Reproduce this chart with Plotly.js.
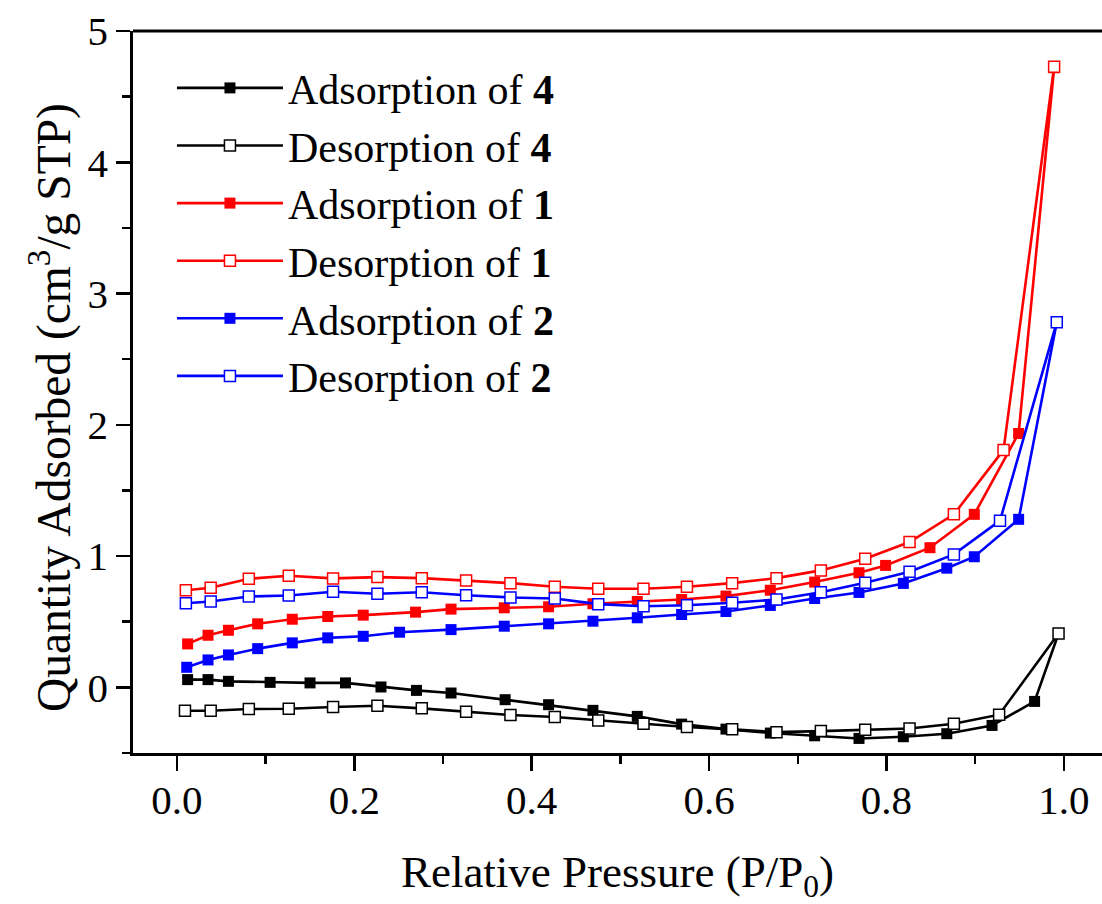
<!DOCTYPE html>
<html>
<head>
<meta charset="utf-8">
<script src="https://cdn.plot.ly/plotly-3.0.1.min.js"></script>
<style>html,body{margin:0;padding:0;background:#fff;}#chart{width:1102px;height:904px;}</style>
</head>
<body>
<div id="chart"></div>
<script>
// Adsorption / desorption isotherms
var ads4_x = [0.012,0.035,0.058,0.105,0.150,0.190,0.230,0.270,0.309,0.370,0.419,0.469,0.519,0.569,0.619,0.669,0.719,0.769,0.819,0.868,0.919,0.967,0.994];
var ads4_y = [0.059,0.059,0.046,0.038,0.034,0.034,0.003,-0.023,-0.043,-0.094,-0.132,-0.175,-0.221,-0.280,-0.318,-0.348,-0.369,-0.389,-0.376,-0.353,-0.290,-0.107,0.410];

var des4_x = [0.009,0.038,0.081,0.126,0.176,0.226,0.276,0.326,0.376,0.426,0.475,0.526,0.575,0.626,0.676,0.726,0.776,0.826,0.876,0.927,0.994];
var des4_y = [-0.178,-0.178,-0.165,-0.163,-0.150,-0.140,-0.160,-0.185,-0.211,-0.226,-0.252,-0.277,-0.302,-0.320,-0.341,-0.333,-0.323,-0.313,-0.277,-0.208,0.410];

var ads1_x = [0.012,0.035,0.058,0.091,0.130,0.170,0.210,0.269,0.309,0.369,0.419,0.469,0.519,0.569,0.619,0.669,0.719,0.769,0.799,0.849,0.899,0.949,0.989];
var ads1_y = [0.331,0.397,0.435,0.484,0.519,0.540,0.550,0.573,0.596,0.606,0.614,0.637,0.654,0.669,0.695,0.740,0.802,0.873,0.929,1.064,1.318,1.934,4.720];

var des1_x = [0.010,0.038,0.081,0.126,0.176,0.226,0.276,0.326,0.376,0.426,0.475,0.526,0.575,0.626,0.676,0.726,0.776,0.826,0.876,0.932,0.989];
var des1_y = [0.740,0.759,0.827,0.850,0.830,0.840,0.832,0.815,0.794,0.766,0.751,0.751,0.766,0.794,0.832,0.891,0.980,1.107,1.318,1.809,4.728];

var ads2_x = [0.011,0.035,0.058,0.091,0.130,0.170,0.210,0.251,0.309,0.369,0.419,0.469,0.519,0.569,0.619,0.669,0.719,0.769,0.819,0.868,0.899,0.949,0.992];
var ads2_y = [0.153,0.209,0.247,0.295,0.339,0.377,0.389,0.420,0.440,0.466,0.484,0.504,0.530,0.555,0.578,0.624,0.677,0.723,0.792,0.908,0.995,1.280,2.782];

var des2_x = [0.010,0.038,0.081,0.126,0.176,0.226,0.276,0.326,0.376,0.426,0.475,0.526,0.575,0.626,0.676,0.726,0.776,0.826,0.876,0.928,0.992];
var des2_y = [0.641,0.654,0.692,0.700,0.728,0.713,0.725,0.702,0.685,0.677,0.634,0.618,0.626,0.644,0.669,0.725,0.797,0.881,1.013,1.270,2.782];

var seriesNames = ['Adsorption of <b>4</b>','Desorption of <b>4</b>','Adsorption of <b>1</b>','Desorption of <b>1</b>','Adsorption of <b>2</b>','Desorption of <b>2</b>'];
var xTickVals = [0, 0.2, 0.4, 0.6, 0.8, 1.0];
var xTickText = ['0.0','0.2','0.4','0.6','0.8','1.0'];
var yTickVals = [0, 1, 2, 3, 4, 5];
var xTitle = 'Relative Pressure (P/P<sub>0</sub>)';
var yTitle = 'Quantity Adsorbed (cm<sup>3</sup>/g STP)';

function mk(x, y, name, color, open) {
  return {
    x: x, y: y, name: name, type: 'scatter', mode: 'lines+markers',
    line: {color: color, width: 2.6},
    marker: {symbol: 'square', size: 11, color: open ? '#ffffff' : color,
             line: {color: color, width: open ? 1.5 : 0}}
  };
}

var data = [
  mk(ads4_x, ads4_y, seriesNames[0], '#000000', false),
  mk(des4_x, des4_y, seriesNames[1], '#000000', true),
  mk(ads1_x, ads1_y, seriesNames[2], '#ff0000', false),
  mk(des1_x, des1_y, seriesNames[3], '#ff0000', true),
  mk(ads2_x, ads2_y, seriesNames[4], '#0000ff', false),
  mk(des2_x, des2_y, seriesNames[5], '#0000ff', true)
];

var font = 'Liberation Serif';

var layout = {
  width: 1102, height: 904,
  margin: {l: 133, r: 0, t: 31, b: 151},
  paper_bgcolor: '#ffffff', plot_bgcolor: '#ffffff',
  font: {family: font, color: '#000', size: 41},
  showlegend: true,
  legend: {
    x: 0.0402, y: 0.968, xanchor: 'left', yanchor: 'top',
    bgcolor: 'rgba(0,0,0,0)', borderwidth: 0,
    font: {family: font, size: 42, color: '#000'},
    itemwidth: 106, tracegroupgap: 0
  },
  xaxis: {
    range: [-0.0496, 1.043],
    tickvals: xTickVals, ticktext: xTickText,
    ticks: 'outside', ticklen: 15, tickwidth: 2.5, tickcolor: '#000',
    minor: {dtick: 0.1, tick0: 0, ticks: 'outside', ticklen: 8, tickwidth: 2.5, tickcolor: '#000'},
    showline: true, linewidth: 2.8, linecolor: '#000',
    showgrid: false, zeroline: false,
    ticklabelstandoff: -6,
    tickfont: {family: font, size: 41, color: '#000'},
    title: {text: xTitle, font: {family: font, size: 45, color: '#000'}, standoff: 34}
  },
  yaxis: {
    range: [-0.5, 5],
    tickvals: yTickVals,
    ticks: 'outside', ticklen: 14, tickwidth: 2.5, tickcolor: '#000',
    minor: {dtick: 0.5, tick0: 0, ticks: 'outside', ticklen: 8, tickwidth: 2.5, tickcolor: '#000'},
    showline: true, linewidth: 2.8, linecolor: '#000',
    showgrid: false, zeroline: false,
    tickfont: {family: font, size: 41, color: '#000'}
  },
  annotations: [
    {text: yTitle, xref: 'paper', yref: 'paper', x: -0.0857, y: 0.479,
     xanchor: 'center', yanchor: 'middle', textangle: -90, showarrow: false,
     font: {family: font, size: 47.5, color: '#000'}}
  ],
  shapes: [
    {type: 'line', xref: 'paper', yref: 'paper', x0: 0, x1: 1, y0: 1, y1: 1,
     line: {color: '#000', width: 2.8}}
  ]
};

Plotly.newPlot('chart', data, layout, {displayModeBar: false, staticPlot: true});
</script>
</body>
</html>
